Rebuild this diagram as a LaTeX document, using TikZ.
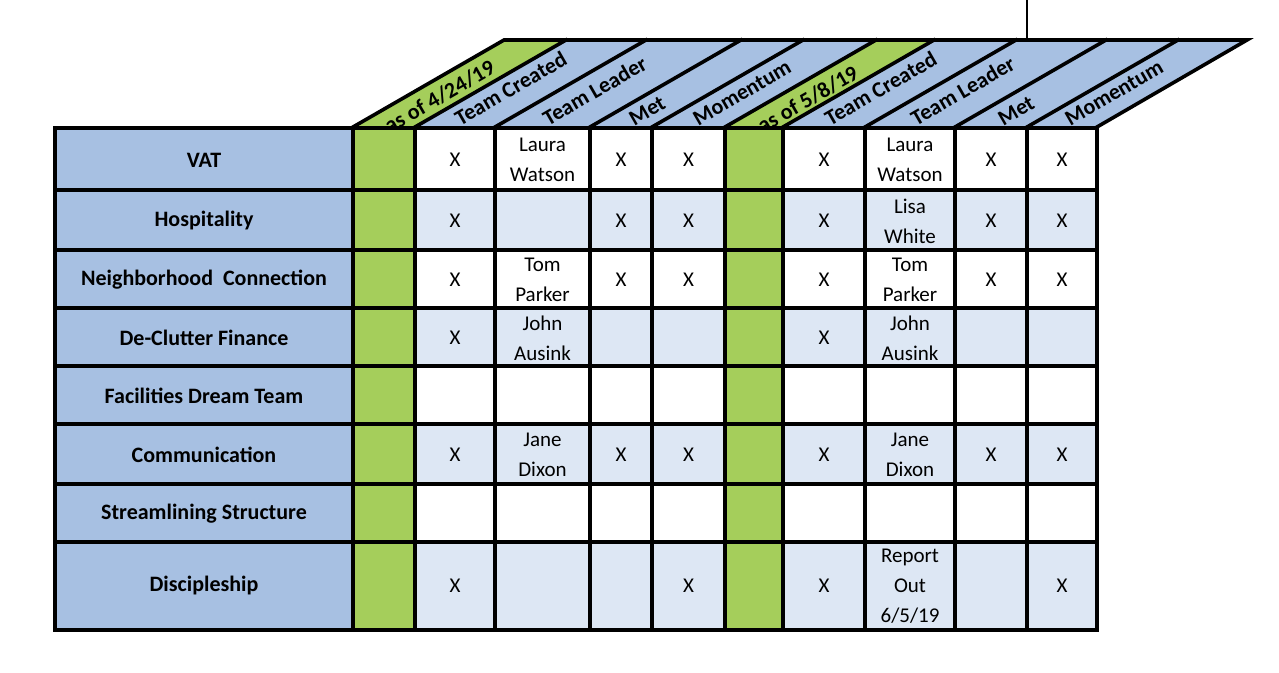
\documentclass[tikz,border=0pt]{standalone}
\usepackage{fontspec}
\setmainfont{Carlito}
\definecolor{lblue}{HTML}{A7C0E2}
\definecolor{pblue}{HTML}{DDE7F4}
\definecolor{lgreen}{HTML}{A5CE5B}
\newcommand{\cells}[9]{%
 \node[cell] (a#1) at (455,#1) {#2};
 \node[cell] (b#1) at (542.5,#1) {#3};
 \node[cell] (c#1) at (621,#1) {#4};
 \node[cell] (d#1) at (688.5,#1) {#5};
 \node[cell] (e#1) at (824,#1) {#6};
 \node[cell] (f#1) at (910,#1) {#7};
 \node[cell] (g#1) at (991,#1) {#8};
 \node[cell] (h#1) at (1062,#1) {#9};}
\begin{document}
\begin{tikzpicture}[x=1pt,y=-1pt,
  cell/.style={align=center,font=\fontsize{21}{30}\selectfont,inner sep=0pt},
  lab/.style={font=\bfseries\fontsize{22}{24}\selectfont,inner sep=0pt},
  hd/.style={font=\bfseries\fontsize{22}{24}\selectfont,rotate=30,anchor=south west,inner sep=1pt},
  grid/.style={line width=3.6pt,line cap=rect}]
\useasboundingbox (0,0) rectangle (1279,672);
% header stripes
\foreach \a/\b/\c in {353/415/lgreen,415/495/lblue,495/590/lblue,590/652/lblue,652/725/lblue,725/783/lgreen,783/865/lblue,865/955/lblue,955/1027/lblue,1027/1097/lblue}
  \fill[\c] (\a,127) -- (\b,127) -- (\b+151,40) -- (\a+151,40) -- cycle;
% header text
\node[hd] (h1) at (390,136) {as of 4/24/19};
\node[hd] (h2) at (460,128) {Team Created};
\node[hd] (h3) at (548,128) {Team Leader};
\node[hd] (h4) at (634,128) {Met};
\node[hd] (h5) at (698,128) {Momentum};
\node[hd] (h6) at (763,136) {as of 5/8/19};
\node[hd] (h7) at (830,128) {Team Created};
\node[hd] (h8) at (916,128) {Team Leader};
\node[hd] (h9) at (1003,128) {Met};
\node[hd] (h10) at (1070,128) {Momentum};
% body fills
\fill[lblue] (55,128) rectangle (353,630);
\foreach \t/\u/\c in {128/190/white,190/250/pblue,250/308/white,308/366/pblue,366/424/white,424/484/pblue,484/542/white,542/630/pblue}
  \fill[\c] (415,\t) rectangle (1097,\u);
\fill[lgreen] (353,128) rectangle (415,630);
\fill[lgreen] (725,128) rectangle (783,630);
% grid
\draw[grid] (353,127) -- (504,40) -- (1247,40) -- (1097,127);
\foreach \a in {415,495,590,652,725,783,865,955,1027}
  \draw[grid] (\a,127) -- (\a+151,40);
\draw[grid] (55,128) rectangle (1097,630);
\foreach \y in {190,250,308,366,424,484,542}
  \draw[grid] (55,\y) -- (1097,\y);
\foreach \a in {353,415,495,590,652,725,783,865,955,1027}
  \draw[grid] (\a,128) -- (\a,630);
\coordinate (vt) at (1027,0);
\coordinate (vb) at (1027,40);
\draw[line width=1.2pt] (vt) -- (vb);
% labels
\node[lab] (r1) at (204,160) {VAT};
\node[lab] (r2) at (204,221) {Hospitality};
\node[lab] (r3) at (204,280) {Neighborhood\ \ Connection};
\node[lab] (r4) at (204,338) {De-Clutter Finance};
\node[lab] (r5) at (204,396) {Facilities Dream Team};
\node[lab] (r6) at (204,455) {Communication};
\node[lab] (r7) at (204,514) {Streamlining Structure};
\node[lab] (r8) at (204,586) {Discipleship};
\cells{160}{X}{Laura\\Watson}{X}{X}{X}{Laura\\Watson}{X}{X}
\cells{221}{X}{}{X}{X}{X}{Lisa\\White}{X}{X}
\cells{280}{X}{Tom\\Parker}{X}{X}{X}{Tom\\Parker}{X}{X}
\cells{338}{X}{John\\Ausink}{}{}{X}{John\\Ausink}{}{}
\cells{396}{}{}{}{}{}{}{}{}
\cells{455}{X}{Jane\\Dixon}{X}{X}{X}{Jane\\Dixon}{X}{X}
\cells{514}{}{}{}{}{}{}{}{}
\cells{586}{X}{}{}{X}{X}{Report\\Out\\6/5/19}{}{X}
\end{tikzpicture}
\end{document}
